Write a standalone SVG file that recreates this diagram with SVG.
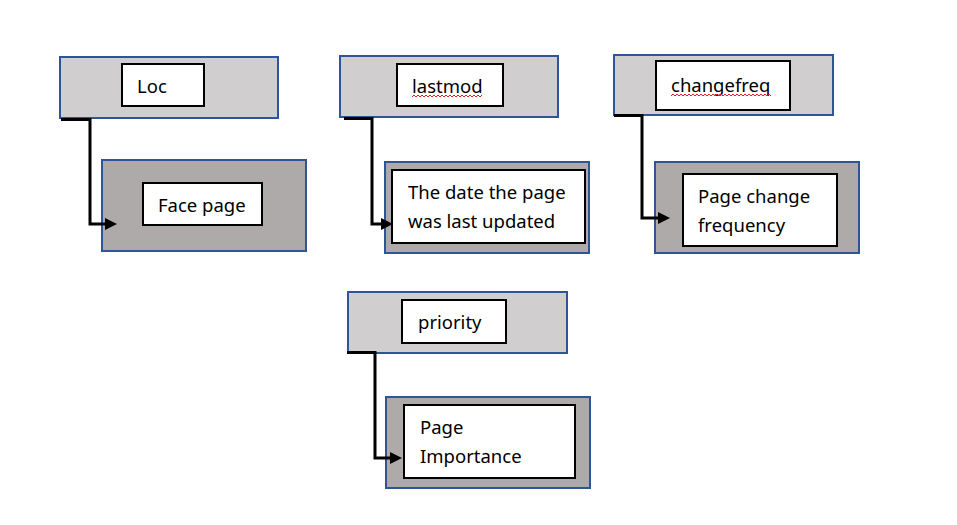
<svg xmlns="http://www.w3.org/2000/svg" width="957" height="525" viewBox="0 0 957 525">
<defs>
<style>
.top{fill:#d0cece;stroke:#2f5597;stroke-width:2}
.bot{fill:#aeaaaa;stroke:#2f5597;stroke-width:2}
.inner{fill:#ffffff;stroke:#000000;stroke-width:2}
.t{font-family:"Noto Sans","Open Sans",sans-serif;font-size:18.5px;fill:#000000}
.conn{fill:none;stroke:#000000;stroke-width:3}
.sq{fill:none;stroke:#e02020;stroke-width:1}
</style>
<marker id="arr" markerUnits="userSpaceOnUse" markerWidth="13" markerHeight="12" refX="0" refY="6" orient="auto">
<path d="M0,0 L12,6 L0,12 z" fill="#000000"/>
</marker>
</defs>
<rect width="957" height="525" fill="#ffffff"/>
<g id="loc">
<rect class="top" x="60" y="57" width="218" height="61"/>
<rect class="inner" x="122" y="64" width="82" height="42"/>
<text class="t" x="137" y="93">Loc</text>
</g>
<g id="face-page">
<rect class="bot" x="102" y="160" width="204" height="91"/>
<rect class="inner" x="143" y="183" width="119" height="42"/>
<text class="t" x="158" y="212">Face page</text>
</g>
<g id="lastmod">
<rect class="top" x="340" y="56" width="218" height="61"/>
<rect class="inner" x="397" y="64" width="106" height="42"/>
<text class="t" x="412" y="93">lastmod</text>
<path class="sq" d="M412,97 l2,-2 l2,2 l2,-2 l2,2 l2,-2 l2,2 l2,-2 l2,2 l2,-2 l2,2 l2,-2 l2,2 l2,-2 l2,2 l2,-2 l2,2 l2,-2 l2,2 l2,-2 l2,2 l2,-2 l2,2 l2,-2 l2,2 l2,-2 l2,2 l2,-2 l2,2 l2,-2 l2,2 l2,-2 l2,2 l2,-2 l2,2 l2,-2"/>
</g>
<g id="date-updated">
<rect class="bot" x="385" y="162" width="204" height="91"/>
<rect class="inner" x="392" y="170" width="193" height="73"/>
<text class="t" x="408" y="199">The date the page</text>
<text class="t" x="408" y="228">was last updated</text>
</g>
<g id="changefreq">
<rect class="top" x="614" y="55" width="219" height="60"/>
<rect class="inner" x="656" y="61" width="134" height="49"/>
<text class="t" x="671" y="92">changefreq</text>
<path class="sq" d="M671,96 l2,-2 l2,2 l2,-2 l2,2 l2,-2 l2,2 l2,-2 l2,2 l2,-2 l2,2 l2,-2 l2,2 l2,-2 l2,2 l2,-2 l2,2 l2,-2 l2,2 l2,-2 l2,2 l2,-2 l2,2 l2,-2 l2,2 l2,-2 l2,2 l2,-2 l2,2 l2,-2 l2,2 l2,-2 l2,2 l2,-2 l2,2 l2,-2 l2,2 l2,-2 l2,2 l2,-2 l2,2 l2,-2 l2,2 l2,-2 l2,2 l2,-2 l2,2 l2,-2 l2,2 l2,-2 l2,2"/>
</g>
<g id="page-change-frequency">
<rect class="bot" x="655" y="162" width="204" height="91"/>
<rect class="inner" x="683" y="174" width="154" height="72"/>
<text class="t" x="698" y="203">Page change</text>
<text class="t" x="698" y="232">frequency</text>
</g>
<g id="priority">
<rect class="top" x="348" y="292" width="219" height="61"/>
<rect class="inner" x="402" y="300" width="104" height="43"/>
<text class="t" x="418" y="329">priority</text>
</g>
<g id="page-importance">
<rect class="bot" x="386" y="397" width="204" height="91"/>
<rect class="inner" x="404" y="405" width="171" height="73"/>
<text class="t" x="420" y="434">Page</text>
<text class="t" x="420" y="463">Importance</text>
</g>
<g id="connectors">
<path class="conn" d="M61,119.5 H90 V224 H105" marker-end="url(#arr)"/>
<path class="conn" d="M344,118.5 H372 V224 H381" marker-end="url(#arr)"/>
<path class="conn" d="M614,115.5 H642 V218 H658" marker-end="url(#arr)"/>
<path class="conn" d="M347,352.5 H375 V458 H390" marker-end="url(#arr)"/>
</g>
</svg>
